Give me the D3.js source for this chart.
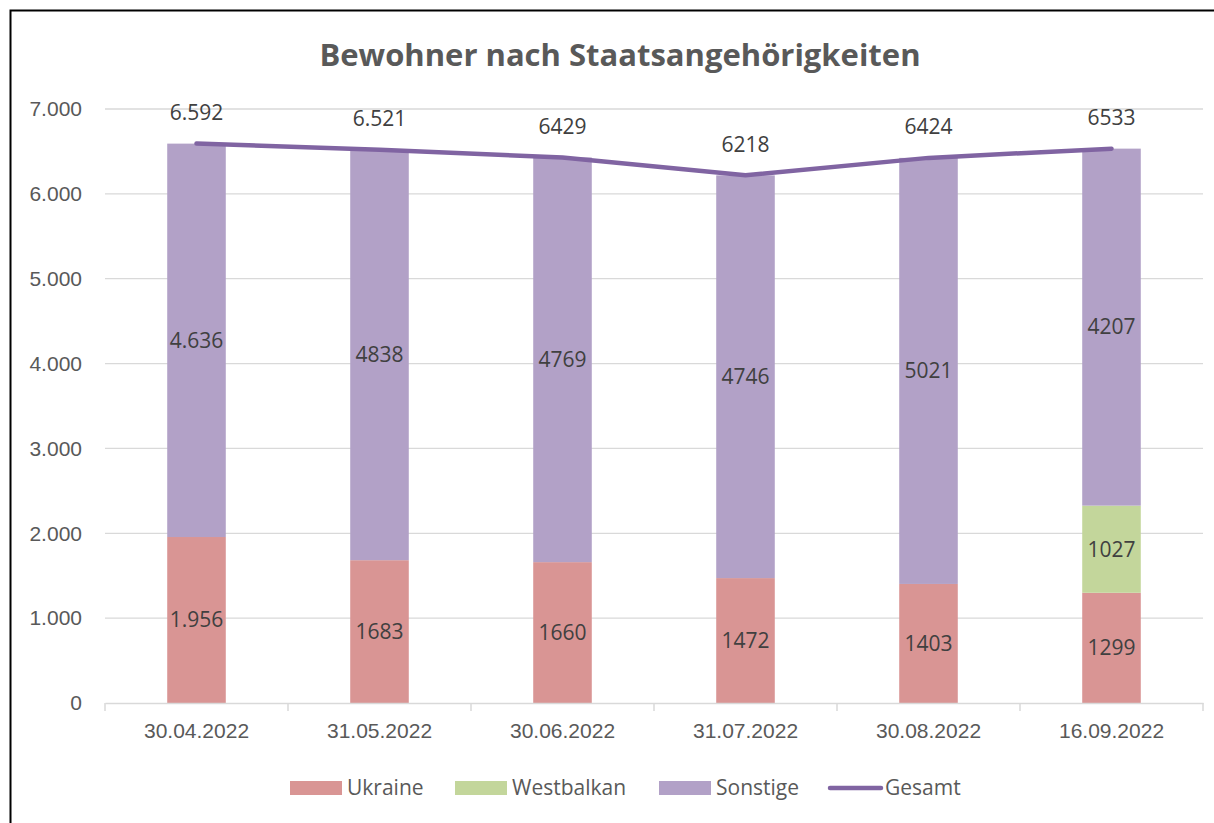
<!DOCTYPE html>
<html>
<head>
<meta charset="utf-8">
<script src="https://cdn.jsdelivr.net/npm/d3@7"></script>
<style>
  body { margin: 0; background: #fff; }
  svg { display: block; font-family: "Open Sans", Lato, sans-serif; }
</style>
</head>
<body>
<div id="chart"></div>
<script>
const dates = ["30.04.2022", "31.05.2022", "30.06.2022", "31.07.2022", "30.08.2022", "16.09.2022"];
const ukraine = [1956, 1683, 1660, 1472, 1403, 1299];
const westbalkan = [0, 0, 0, 0, 0, 1027];
const sonstige = [4636, 4838, 4769, 4746, 5021, 4207];
const gesamt = [6592, 6521, 6429, 6218, 6424, 6533];
const yTicks = [0, 1000, 2000, 3000, 4000, 5000, 6000, 7000];
// columns whose data labels show a thousands separator in the original
const separatorCols = { Ukraine: [0], Westbalkan: [], Sonstige: [0], Gesamt: [0, 1] };

const seriesNames = ["Ukraine", "Westbalkan", "Sonstige"];
const colors = { Ukraine: "#d99594", Westbalkan: "#c3d69b", Sonstige: "#b2a1c7", Gesamt: "#8064a2" };

const W = 1214, H = 823;
const margin = { top: 109, right: 11, bottom: 120, left: 105 };
const width = W - margin.left - margin.right;
const height = 703 - margin.top;
const FS = 21;

const de = d3.formatLocale({ decimal: ",", thousands: ".", grouping: [3], currency: ["", "€"] });
const fmt = de.format(",d");
const labelFmt = (series, v, i) => separatorCols[series].includes(i) ? fmt(v) : String(v);

const svg = d3.select("#chart").append("svg")
    .attr("width", W)
    .attr("height", H);

// outer frame
svg.append("rect")
    .attr("x", 10.5).attr("y", 10.5)
    .attr("width", W + 20).attr("height", H + 20)
    .attr("fill", "none").attr("stroke", "#000").attr("stroke-width", 2);

svg.append("text")
    .attr("x", 620).attr("y", 66)
    .attr("text-anchor", "middle")
    .attr("font-size", 31).attr("font-weight", "bold")
    .attr("fill", "#595959")
    .text("Bewohner nach Staatsangehörigkeiten");

const g = svg.append("g").attr("transform", `translate(${margin.left},${margin.top})`);

const x = d3.scaleBand().domain(dates).range([0, width]).paddingInner(0.68).paddingOuter(0.34);
const y = d3.scaleLinear().domain([0, 7000]).range([height, 0]);

// gridlines
g.append("g")
    .selectAll("line")
    .data(yTicks.slice(1))
    .join("line")
    .attr("x1", 0).attr("x2", width)
    .attr("y1", d => y(d)).attr("y2", d => y(d))
    .attr("stroke", "#d9d9d9").attr("stroke-width", 1.3);

// y axis labels
const yAxis = g.append("g")
    .call(d3.axisLeft(y).tickValues(yTicks).tickFormat(fmt).tickSize(0).tickPadding(23));
yAxis.select(".domain").remove();
yAxis.selectAll("text").attr("font-size", FS).attr("fill", "#595959").attr("font-family", null);

// stacked bars
const rows = dates.map((d, i) => ({ date: d, Ukraine: ukraine[i], Westbalkan: westbalkan[i], Sonstige: sonstige[i] }));
const stack = d3.stack().keys(seriesNames)(rows);

const layers = g.append("g").selectAll("g")
    .data(stack)
    .join("g")
    .attr("fill", d => colors[d.key]);

layers.selectAll("rect")
    .data(d => d)
    .join("rect")
    .attr("x", d => x(d.data.date))
    .attr("width", x.bandwidth())
    .attr("y", d => y(d[1]))
    .attr("height", d => y(d[0]) - y(d[1]));

// segment labels
stack.forEach(layer => {
    g.append("g").selectAll("text")
        .data(layer.filter(d => d[1] - d[0] > 0))
        .join("text")
        .attr("x", d => x(d.data.date) + x.bandwidth() / 2)
        .attr("y", d => y((d[0] + d[1]) / 2))
        .attr("dy", "0.35em")
        .attr("text-anchor", "middle")
        .attr("font-size", FS)
        .attr("fill", "#404040")
        .text(d => labelFmt(layer.key, d[1] - d[0], dates.indexOf(d.data.date)));
});

// x axis
const xAxis = g.append("g")
    .attr("transform", `translate(0,${height})`)
    .call(d3.axisBottom(x).tickSize(0).tickPadding(20));
xAxis.select(".domain").attr("stroke", "#d9d9d9").attr("stroke-width", 1.5);
xAxis.selectAll("text").attr("font-size", FS).attr("fill", "#595959").attr("font-family", null);

const step = x.step();
g.append("g").selectAll("line")
    .data(d3.range(dates.length + 1))
    .join("line")
    .attr("x1", i => i * step).attr("x2", i => i * step)
    .attr("y1", height).attr("y2", height + 8)
    .attr("stroke", "#d9d9d9").attr("stroke-width", 1.5);

// total line
const cx = d => x(d) + x.bandwidth() / 2;
g.append("path")
    .datum(dates)
    .attr("fill", "none")
    .attr("stroke", colors.Gesamt)
    .attr("stroke-width", 4.5)
    .attr("stroke-linecap", "round")
    .attr("stroke-linejoin", "round")
    .attr("d", d3.line().x(d => cx(d)).y((d, i) => y(gesamt[i])));

g.append("g").selectAll("text")
    .data(dates)
    .join("text")
    .attr("x", d => cx(d))
    .attr("y", (d, i) => y(gesamt[i]) - 31)
    .attr("dy", "0.35em")
    .attr("text-anchor", "middle")
    .attr("font-size", FS)
    .attr("fill", "#404040")
    .text((d, i) => labelFmt("Gesamt", gesamt[i], i));

// legend
const legendItems = [
    { name: "Ukraine", x: 290, type: "rect" },
    { name: "Westbalkan", x: 455, type: "rect" },
    { name: "Sonstige", x: 659, type: "rect" },
    { name: "Gesamt", x: 830, type: "line" }
];
const legend = svg.append("g").attr("transform", "translate(0,788)");
legendItems.forEach(item => {
    if (item.type === "rect") {
        legend.append("rect")
            .attr("x", item.x).attr("y", -7)
            .attr("width", 52).attr("height", 14)
            .attr("fill", colors[item.name]);
    } else {
        legend.append("line")
            .attr("x1", item.x).attr("x2", item.x + 51)
            .attr("y1", 0).attr("y2", 0)
            .attr("stroke", colors[item.name])
            .attr("stroke-width", 4.5)
            .attr("stroke-linecap", "round");
    }
    legend.append("text")
        .attr("x", item.x + (item.type === "rect" ? 57 : 55))
        .attr("y", 0)
        .attr("dy", "0.35em")
        .attr("font-size", FS)
        .attr("fill", "#595959")
        .text(item.name);
});
</script>
</body>
</html>
